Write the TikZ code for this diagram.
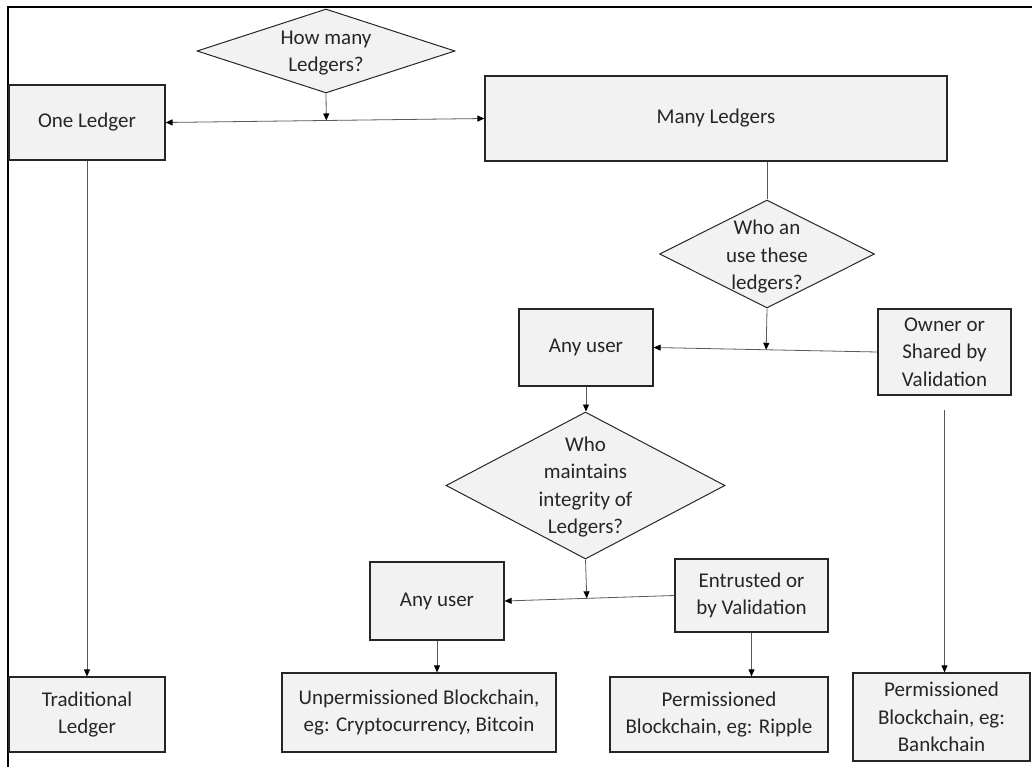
\documentclass[tikz,border=0pt]{standalone}
\usepackage{fontspec}
\setmainfont{Carlito}
\usetikzlibrary{shapes.geometric,arrows.meta,calc}
\definecolor{boxfill}{HTML}{F2F2F2}
\definecolor{edge}{HTML}{262626}
\definecolor{wire}{HTML}{595959}
\begin{document}
\begin{tikzpicture}[x=1pt,y=-1pt,
  every node/.style={font=\fontsize{21}{27.5}\selectfont, text=edge},
  box/.style={draw=edge, line width=1.2pt, fill=boxfill, rectangle, inner sep=0pt, align=center},
  dia/.style={draw=edge, line width=1pt, fill=boxfill, diamond, inner sep=0pt},
  txt/.style={align=center, inner sep=0pt},
  tip/.tip={Triangle[length=7pt,width=6pt,color=black]},
  wirearrow/.style={draw=wire, line width=0.8pt, -tip},
  wireboth/.style={draw=wire, line width=0.8pt, tip-tip},
  wireplain/.style={draw=wire, line width=0.8pt}]
\useasboundingbox (0,0) rectangle (1032,767);

% frame edges along top and left
\draw[line width=2pt, black] (8,767) -- (8,7) -- (1032,7);

% decisions
\node[dia, minimum width=258pt, minimum height=84pt] (d1) at (326,51) {};
\node[txt] (d1t) at (326,53) {How many\\Ledgers?};

\node[dia, minimum width=215pt, minimum height=108pt] (d2) at (767,254) {};
\node[txt] (d2t) at (767,257) {Who an\\use these\\ledgers?};

\node[dia, minimum width=279pt, minimum height=147pt] (d3) at (585.5,485.5) {};
\node[txt] (d3t) at (585.5,487) {Who\\maintains\\integrity of\\Ledgers?};

% boxes
\node[box, minimum width=156pt, minimum height=75pt] (one) at (87,122.5) {One Ledger};
\node[box, minimum width=462pt, minimum height=85pt] (many) at (716,118.5) {Many Ledgers};
\node[box, minimum width=134pt, minimum height=77pt] (any1) at (586,347.5) {Any user};
\node[box, minimum width=133pt, minimum height=86pt] (owner) at (944.5,352) {Owner or\\Shared by\\Validation};
\node[box, minimum width=134pt, minimum height=78pt] (any2) at (437,601) {Any user};
\node[box, minimum width=153pt, minimum height=73pt] (entr) at (751.5,595.5) {Entrusted or\\by Validation};
\node[box, minimum width=156pt, minimum height=75pt] (trad) at (87,714.5) {Traditional\\Ledger};
\node[box, minimum width=274pt, minimum height=79pt] (unperm) at (419,712.5) {Unpermissioned Blockchain,\\eg: Cryptocurrency, Bitcoin};
\node[box, minimum width=218pt, minimum height=75pt] (ripple) at (719,714.5) {Permissioned\\Blockchain, eg: Ripple};
\node[box, minimum width=177pt, minimum height=88pt] (bank) at (941.5,717) {Permissioned\\Blockchain, eg:\\Bankchain};

% junction points on the split lines
\coordinate (j1) at ($(one.east)!(d1.south)!(many.west)$);
\coordinate (j2) at ($(owner.west)!(d2.south)!(any1.east)$);
\coordinate (j3) at ($(entr.west)!(d3.south)!(any2.east)$);

% connectors
\draw[wireboth] (one.east) -- (many.west);
\draw[wirearrow] (d1.south) -- (j1);
\draw[wireplain] (d2.north |- many.south) -- (d2.north);
\draw[wirearrow] (owner.west) -- (any1.east);
\draw[wirearrow] (d2.south) -- (j2);
\draw[wirearrow] (any1.south) -- (any1.south |- d3.north);
\draw[wirearrow] (entr.west) -- (any2.east);
\draw[wirearrow] (d3.south) -- (j3);
\draw[wirearrow] (one.south) -- (trad.north);
\draw[wirearrow] (any2.south) -- (any2.south |- unperm.north);
\draw[wirearrow] (entr.south) -- (entr.south |- ripple.north);
\draw[wirearrow, shorten <=14pt] (owner.south) -- (owner.south |- bank.north);
\end{tikzpicture}
\end{document}
